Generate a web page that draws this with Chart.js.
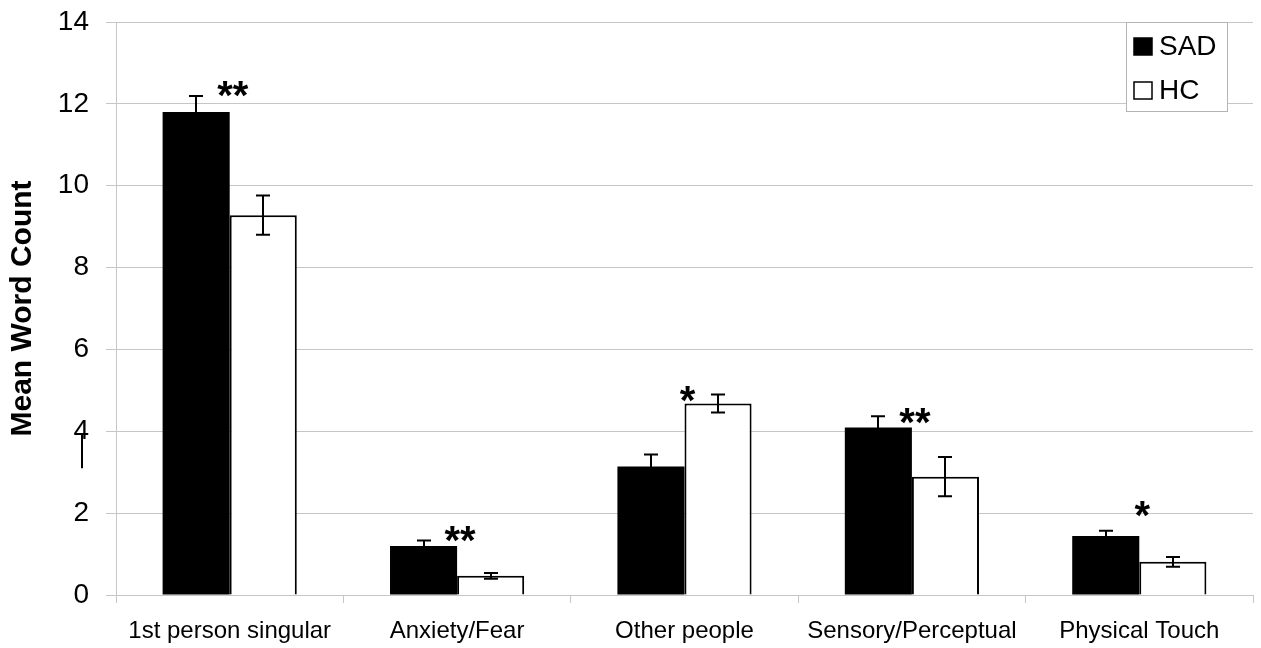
<!DOCTYPE html>
<html>
<head>
<meta charset="utf-8">
<script src="https://cdn.jsdelivr.net/npm/chart.js@4.4.1/dist/chart.umd.min.js"></script>
<style>
  html, body { margin: 0; padding: 0; background: #fff; }
  #wrap { width: 1261px; height: 648px; }
</style>
</head>
<body>
<div id="wrap"><canvas id="chart"></canvas></div>
<script>
const categories = ['1st person singular', 'Anxiety/Fear', 'Other people', 'Sensory/Perceptual', 'Physical Touch'];
const sadValues = [11.8, 1.2, 3.14, 4.09, 1.44];
const hcValues = [9.28, 0.47, 4.68, 2.89, 0.81];
const sadErrors = [0.39, 0.13, 0.29, 0.28, 0.13];
const hcErrors = [0.48, 0.07, 0.22, 0.48, 0.12];
const sigMarks = ['**', '**', '*', '**', '*'];
const sigLevels = [12.44, 1.58, 5.0, 4.46, 2.17];
const yTicks = [0, 2, 4, 6, 8, 10, 12, 14];

const GRID = '#c6c6c6';

const errorBars = {
  id: 'errorBars',
  afterDatasetsDraw(chart) {
    const ctx = chart.ctx;
    const y = chart.scales.y;
    const errs = [sadErrors, hcErrors];
    ctx.save();
    ctx.strokeStyle = '#000';
    ctx.lineWidth = 2;
    chart.data.datasets.forEach((ds, i) => {
      chart.getDatasetMeta(i).data.forEach((bar, j) => {
        const v = ds.data[j];
        const top = y.getPixelForValue(v + errs[i][j]);
        const bot = y.getPixelForValue(v - errs[i][j]);
        const x = Math.round(bar.x);
        ctx.beginPath();
        ctx.moveTo(x, top); ctx.lineTo(x, bot);
        ctx.moveTo(x - 7, top); ctx.lineTo(x + 7, top);
        ctx.moveTo(x - 7, bot); ctx.lineTo(x + 7, bot);
        ctx.stroke();
      });
    });

    // significance asterisks
    ctx.fillStyle = '#000';
    ctx.font = 'bold 40px "Liberation Sans", Arial, sans-serif';
    ctx.textAlign = 'center';
    ctx.textBaseline = 'alphabetic';
    const xs = chart.scales.x;
    sigMarks.forEach((m, j) => {
      const cx = xs.getPixelForValue(j) + 3;
      const cy = y.getPixelForValue(sigLevels[j]);
      ctx.fillText(m, cx, cy + 40 * 0.58);
    });

    // stray stroke under the "4" tick label
    const y4 = y.getPixelForValue(4);
    ctx.lineWidth = 2;
    ctx.beginPath();
    ctx.moveTo(chart.chartArea.left - 34, y4 + 2);
    ctx.lineTo(chart.chartArea.left - 34, y4 + 37);
    ctx.stroke();
    ctx.restore();
  }
};

const boxLegend = {
  id: 'boxLegend',
  afterDraw(chart) {
    const ctx = chart.ctx;
    const area = chart.chartArea;
    const x0 = area.right - 127, y0 = area.top, w = 101, h = 89;
    ctx.save();
    ctx.fillStyle = '#fff';
    ctx.fillRect(x0, y0, w, h);
    ctx.strokeStyle = '#b4b4b4';
    ctx.lineWidth = 1;
    ctx.strokeRect(x0 + 0.5, y0 + 0.5, w, h);
    ctx.font = '28px "Liberation Sans", Arial, sans-serif';
    ctx.textBaseline = 'middle';
    ctx.textAlign = 'left';
    chart.data.datasets.forEach((ds, i) => {
      const cy = y0 + 24 + i * 44;
      ctx.fillStyle = ds.backgroundColor;
      ctx.fillRect(x0 + 8, cy - 8, 18, 17);
      ctx.strokeStyle = '#000';
      ctx.lineWidth = 1.5;
      ctx.strokeRect(x0 + 8, cy - 8, 18, 17);
      ctx.fillStyle = '#000';
      ctx.fillText(ds.label, x0 + 33, cy + 1);
    });
    ctx.restore();
  }
};

new Chart(document.getElementById('chart'), {
  type: 'bar',
  data: {
    labels: categories,
    datasets: [
      { label: 'SAD', data: sadValues, backgroundColor: '#000', borderColor: '#000', borderWidth: 0 },
      { label: 'HC', data: hcValues, backgroundColor: '#fff', borderColor: '#000', borderWidth: 2 }
    ]
  },
  options: {
    responsive: true,
    maintainAspectRatio: false,
    animation: false,
    layout: { padding: { top: 22, right: 8, left: 0, bottom: 0 } },
    datasets: { bar: { categoryPercentage: 0.59, barPercentage: 1.0 } },
    plugins: { legend: { display: false }, tooltip: { enabled: false } },
    scales: {
      x: {
        grid: { offset: true, drawOnChartArea: false, tickLength: 8, color: GRID },
        border: { color: GRID },
        ticks: { color: '#000', padding: 14, font: { family: '"Liberation Sans", Arial, sans-serif', size: 24 } },
        afterFit(scale) {
          scale.height = 53;
          scale.paddingLeft = 0;
          scale.paddingRight = 0;
        }
      },
      y: {
        min: 0,
        max: 14,
        afterBuildTicks(scale) { scale.ticks = yTicks.map((v) => ({ value: v })); },
        grid: { color: GRID, tickLength: 10 },
        border: { color: GRID },
        ticks: { color: '#000', padding: 17, font: { family: '"Liberation Sans", Arial, sans-serif', size: 28 } },
        title: {
          display: true,
          text: 'Mean Word Count',
          color: '#000',
          padding: { top: 5, bottom: 0 },
          font: { family: '"Liberation Sans", Arial, sans-serif', size: 30, weight: 'bold' }
        },
        afterFit(scale) {
          scale.width = 116;
          scale.paddingTop = 0;
          scale.paddingBottom = 0;
        }
      }
    }
  },
  plugins: [errorBars, boxLegend]
});
</script>
</body>
</html>
